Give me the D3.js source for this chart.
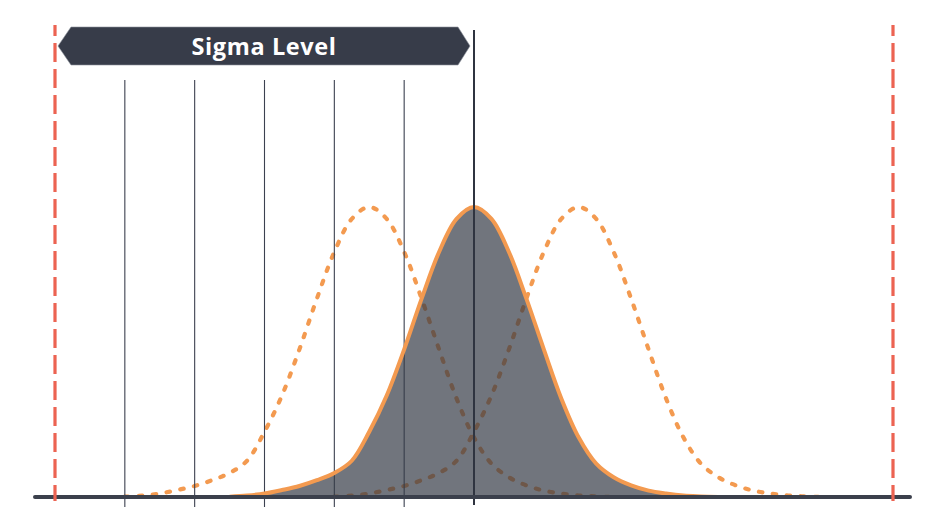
<!DOCTYPE html>
<html>
<head>
<meta charset="utf-8">
<script src="https://cdn.jsdelivr.net/npm/d3@7"></script>
<style>
  html, body { margin: 0; padding: 0; background: #ffffff; }
  svg { display: block; }
</style>
</head>
<body>
<svg id="chart" width="945" height="532"></svg>
<script>
// ---- data (x in sigma units, heights relative to peak) ----
const sigmaTicks = [-5, -4, -3, -2, -1];
const centerLine = [0];
const specLimits = [-6, 6];
const profileOffsets = [-3.5, -3.25, -3, -2.75, -2.5, -2.25, -2, -1.75, -1.5, -1.25, -1, -0.75, -0.5, -0.25, 0,
                        0.25, 0.5, 0.75, 1, 1.25, 1.5, 1.75, 2, 2.25, 2.5, 2.75, 3, 3.25, 3.5];
const profileHeights = [0.001, 0.005, 0.012, 0.024, 0.038, 0.058, 0.083, 0.125, 0.225, 0.35, 0.509, 0.684, 0.845, 0.959, 1,
                        0.959, 0.845, 0.684, 0.509, 0.34, 0.205, 0.115, 0.068, 0.04, 0.022, 0.012, 0.005, 0.002, 0];
const shiftedMeans = [-1.5, 1.5];
const centerMean = 0;
const bannerLabel = "Sigma Level";

// ---- drawing ----
const svg = d3.select("#chart");
const x = d3.scaleLinear().domain([-6, 6]).range([55, 893]);
const y = d3.scaleLinear().domain([0, 1]).range([497, 207]);

const orange = "#f39a50";
const dark = "#373c49";

const pts = mean => profileOffsets.map((o, i) => [mean + o, profileHeights[i]]);
const line = d3.line().x(d => x(d[0])).y(d => y(d[1])).curve(d3.curveCatmullRom.alpha(0.5));
const area = d3.area().x(d => x(d[0])).y0(y(0)).y1(d => y(d[1])).curve(d3.curveCatmullRom.alpha(0.5));

// dashed shifted curves
svg.selectAll("path.shift").data(shiftedMeans).join("path")
  .attr("class", "shift")
  .attr("d", m => line(pts(m)))
  .attr("fill", "none")
  .attr("stroke", orange)
  .attr("stroke-width", 4.2)
  .attr("stroke-linecap", "round")
  .attr("stroke-dasharray", "3.5,10.5");

// sigma tick lines
svg.selectAll("line.tick").data(sigmaTicks).join("line")
  .attr("class", "tick")
  .attr("x1", d => x(d)).attr("x2", d => x(d))
  .attr("y1", 80).attr("y2", 507)
  .attr("stroke", "#3c4150")
  .attr("stroke-width", 1.1);

// central filled curve
svg.append("path")
  .attr("d", area(pts(centerMean)))
  .attr("fill", "#343a46")
  .attr("fill-opacity", 0.7);
svg.append("path")
  .attr("d", line(pts(centerMean)))
  .attr("fill", "none")
  .attr("stroke", orange)
  .attr("stroke-width", 4);

// center line
svg.selectAll("line.center").data(centerLine).join("line")
  .attr("class", "center")
  .attr("x1", d => x(d)).attr("x2", d => x(d))
  .attr("y1", 30).attr("y2", 505)
  .attr("stroke", "#2f3440")
  .attr("stroke-width", 2);

// baseline
svg.append("line")
  .attr("x1", 35).attr("x2", 910)
  .attr("y1", y(0)).attr("y2", y(0))
  .attr("stroke", "#3b404c")
  .attr("stroke-width", 4)
  .attr("stroke-linecap", "round");

// spec limits
svg.selectAll("line.spec").data(specLimits).join("line")
  .attr("class", "spec")
  .attr("x1", d => x(d)).attr("x2", d => x(d))
  .attr("y1", 25).attr("y2", 501)
  .attr("stroke", "#ec6352")
  .attr("stroke-width", 3.2)
  .attr("stroke-dasharray", "19,7")
  .attr("stroke-dashoffset", 8);

// banner
const bx0 = 71, bx1 = 458, by0 = 27, by1 = 65, bm = (by0 + by1) / 2;
svg.append("path")
  .attr("d", `M${bx0},${by0} L${bx1},${by0} L${bx1 + 12},${bm} L${bx1},${by1} L${bx0},${by1} L${bx0 - 13},${bm} Z`)
  .attr("fill", dark)
  .attr("stroke", "#8d929c")
  .attr("stroke-width", 0.6);
svg.append("text")
  .attr("x", 264).attr("y", 54.5)
  .attr("text-anchor", "middle")
  .attr("font-family", "'Open Sans', sans-serif")
  .attr("font-weight", 700)
  .attr("font-size", 23.5)
  .attr("letter-spacing", 0.6)
  .attr("fill", "#ffffff")
  .text(bannerLabel);
</script>
</body>
</html>
